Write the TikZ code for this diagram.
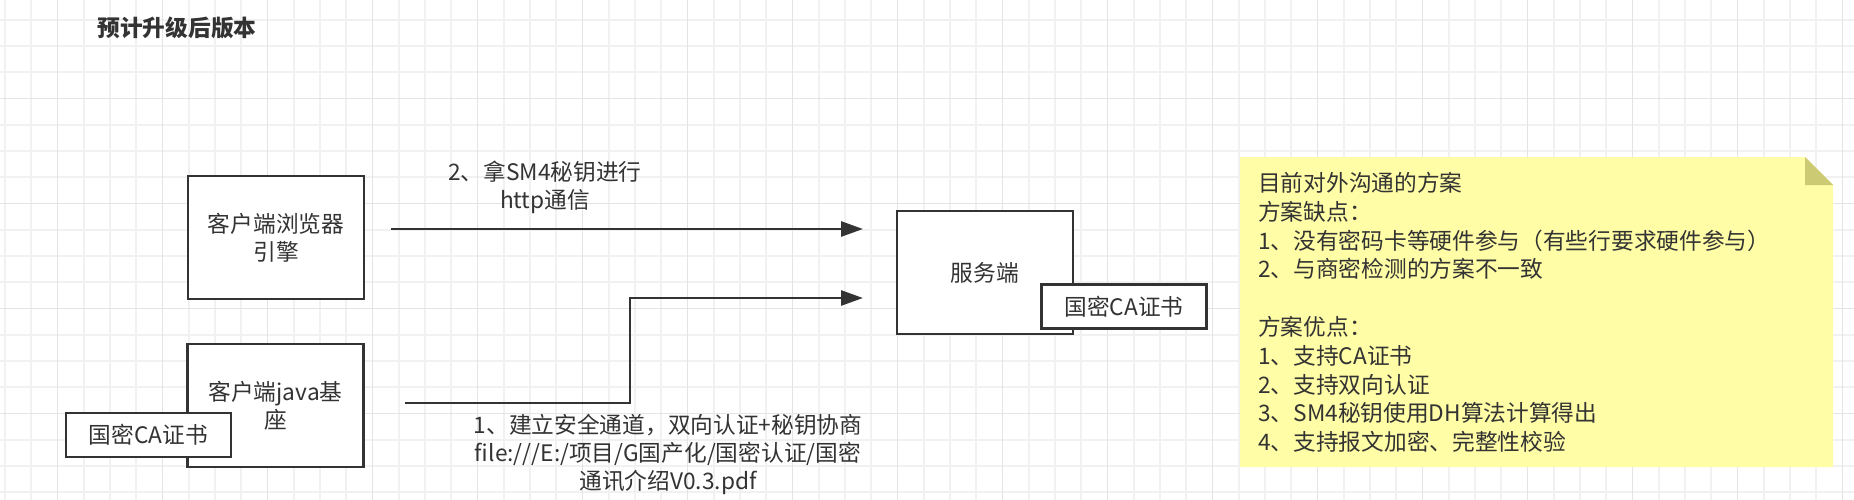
\documentclass[tikz,border=0pt]{standalone}
\usepackage{fontspec}
\setmainfont{Noto Sans CJK SC}
\usetikzlibrary{arrows.meta}
\definecolor{ink}{HTML}{333333}
\definecolor{gridminor}{HTML}{F1F1F1}
\definecolor{gridmajor}{HTML}{E4E4E4}
\definecolor{notefill}{HTML}{FFFDA6}
\definecolor{notefold}{HTML}{CDCA74}
\newcommand\mytxt{\fontsize{22.7pt}{28pt}\selectfont}
\newcommand\mynotetxt{\fontsize{22.7pt}{28.8pt}\selectfont}
\begin{document}
\begin{tikzpicture}[x=1pt,y=-1pt,
  bigbox/.style={draw=ink, line width=2.7pt, fill=white, inner sep=0pt,
    minimum width=176pt, minimum height=123pt, align=center, text=ink, font=\mytxt},
  certbox/.style={draw=ink, line width=2.7pt, fill=white, inner sep=0pt,
    minimum width=165pt, minimum height=44pt, text=ink, font=\mytxt},
  lbl/.style={text=ink, font=\mytxt, align=center, inner sep=0pt},
  flow/.style={draw=ink, line width=2.7pt, -{Triangle[length=22pt,width=15pt]}},
  gmin/.style={draw=gridminor, line width=1.6pt},
  gmaj/.style={draw=gridmajor, line width=1.6pt}]
\useasboundingbox (0,0) rectangle (1854,500);
\fill[white] (0,0) rectangle (1854,500);
% grid
\foreach \i in {0,...,70} \draw[gmin] ({5+26.25*\i},0) -- ({5+26.25*\i},500);
\foreach \j in {0,...,18} \draw[gmin] (0,{19.75+26.25*\j}) -- (1854,{19.75+26.25*\j});
\foreach \i in {0,...,17} \draw[gmaj] ({57.5+105*\i},0) -- ({57.5+105*\i},500);
\foreach \j in {1,...,4} \draw[gmaj] (0,{-6.5+105*\j}) -- (1854,{-6.5+105*\j});

% title
\node[text=ink, inner sep=0pt, font=\mytxt\bfseries] (title) at (177,28) {预计升级后版本};

% boxes
\node[bigbox] (browser) at (276,237.5) {客户端浏览器\\引擎};
\node[bigbox] (java) at (275.5,405.5) {客户端java基\\座};
\node[certbox] (certc) at (148.5,435) {国密CA证书};
\node[bigbox] (server) at (985,272.5) {服务端};
\node[certbox] (certs) at (1124,306.5) {国密CA证书};

% connectors
\coordinate (s2) at (391,229);
\coordinate (e2) at (863,229);
\coordinate (s1) at (405,403);
\coordinate (e1) at (863,298);
\draw[flow] (s2) -- (e2);
\draw[flow] (s1) -- ++(225,0) |- (e1);

% labels
\node[lbl] (lab2) at (545,187) {2、拿SM4秘钥进行\\http通信};
\node[lbl] (lab1) at (668,454) {1、建立安全通道，双向认证+秘钥协商\\file:///E:/项目/G国产化/国密认证/国密\\通讯介绍V0.3.pdf};

% note
\fill[notefill] (1240,157) -- (1805,157) -- (1833,185) -- (1833,467) -- (1240,467) -- cycle;
\fill[notefold] (1805,157) -- (1805,185) -- (1833,185) -- cycle;
\node[text=ink, font=\mynotetxt, align=left, inner sep=0pt, anchor=west] (notetext) at (1258,312.5)
 {目前对外沟通的方案\\方案缺点：\\1、没有密码卡等硬件参与（有些行要求硬件参与）\\2、与商密检测的方案不一致\\\mbox{}\\方案优点：\\1、支持CA证书\\2、支持双向认证\\3、SM4秘钥使用DH算法计算得出\\4、支持报文加密、完整性校验};
\end{tikzpicture}
\end{document}
